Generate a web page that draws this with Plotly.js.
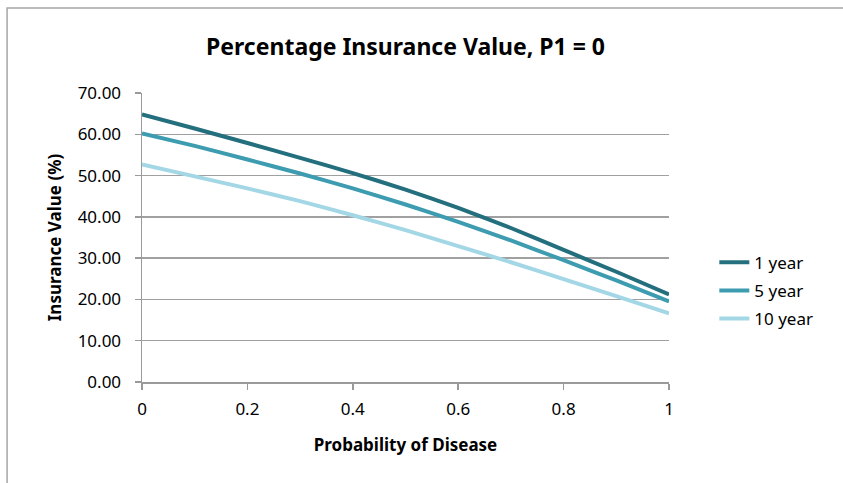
<!DOCTYPE html>
<html>
<head>
<meta charset="utf-8">
<script src="https://cdn.plot.ly/plotly-3.0.1.min.js"></script>
<style>
html,body{margin:0;padding:0;background:#fff;}
#chart{width:843px;height:483px;}
</style>
</head>
<body>
<div id="chart"></div>
<script>
const prob = [0, 0.1, 0.2, 0.3, 0.4, 0.5, 0.6, 0.7, 0.8, 0.9, 1.0];
const oneYear = [64.8, 61.4, 57.9, 54.3, 50.6, 46.6, 42.2, 37.3, 32.0, 26.7, 21.2];
const fiveYear = [60.2, 57.2, 53.9, 50.5, 46.9, 43.0, 38.8, 34.3, 29.5, 24.6, 19.5];
const tenYear = [52.7, 49.8, 46.9, 43.8, 40.4, 36.8, 32.9, 29.0, 24.9, 20.8, 16.6];
const seriesNames = ["1 year", "5 year", "10 year"];
const yTicks = [0, 10, 20, 30, 40, 50, 60, 70];
const xTicks = [0, 0.2, 0.4, 0.6, 0.8, 1];
const xTickText = ["0", "0.2", "0.4", "0.6", "0.8", "1"];

const font = "Noto Sans, sans-serif";
const colors = ["#246f7e", "#3d9cb0", "#a3d7e5"];
const data = [oneYear, fiveYear, tenYear].map((ys, i) => ({
  x: prob, y: ys, type: "scatter", mode: "lines", name: seriesNames[i],
  legendgroup: "g" + i,
  line: {color: colors[i], width: 4, shape: "spline", smoothing: 0.5}
}));

const layout = {
  width: 843, height: 483,
  margin: {l: 142, r: 174, t: 93, b: 101},
  paper_bgcolor: "#fff", plot_bgcolor: "#fff",
  font: {family: font, size: 17, color: "#000"},
  title: {text: "<b>Percentage Insurance Value, P1 = 0</b>", font: {family: font, size: 23, color: "#000"},
          x: 0.5, xref: "paper", y: 0.92, yref: "container"},
  xaxis: {
    range: [0, 1], tickvals: xTicks, ticktext: xTickText, showgrid: false, zeroline: false,
    showline: true, linecolor: "#9a9a9a", linewidth: 1.5, ticks: "outside", ticklen: 6,
    tickcolor: "#9a9a9a", tickwidth: 1.5,
    tickfont: {family: font, size: 17}, ticklabelstandoff: 5,
    title: {text: "<b>Probability of Disease</b>", font: {family: font, size: 17}, standoff: 20}
  },
  yaxis: {
    range: [0, 70], tickvals: yTicks, tickformat: ".2f", showgrid: true, gridcolor: "#a0a0a0",
    gridwidth: 1.5, zeroline: false, showline: true, linecolor: "#9a9a9a", linewidth: 1.5,
    ticks: "outside", ticklen: 6, tickcolor: "#9a9a9a", tickwidth: 1.5,
    tickfont: {family: font, size: 17}, ticklabelstandoff: 10,
    title: {text: "<b>Insurance Value (%)</b>", font: {family: font, size: 17}, standoff: 11}
  },
  legend: {x: 1.086, xanchor: "left", y: 0.475, yanchor: "top", font: {family: font, size: 17},
           bgcolor: "rgba(0,0,0,0)", tracegroupgap: 3, itemwidth: 30},
  shapes: [{type: "rect", xref: "paper", yref: "paper", x0: -0.256, x1: 1.5, y0: -0.5, y1: 1.294,
            line: {color: "#a6a6a6", width: 1.5}, fillcolor: "rgba(0,0,0,0)", layer: "below"}],
  showlegend: true
};
Plotly.newPlot("chart", data, layout, {displayModeBar: false, staticPlot: true});
</script>
</body>
</html>
